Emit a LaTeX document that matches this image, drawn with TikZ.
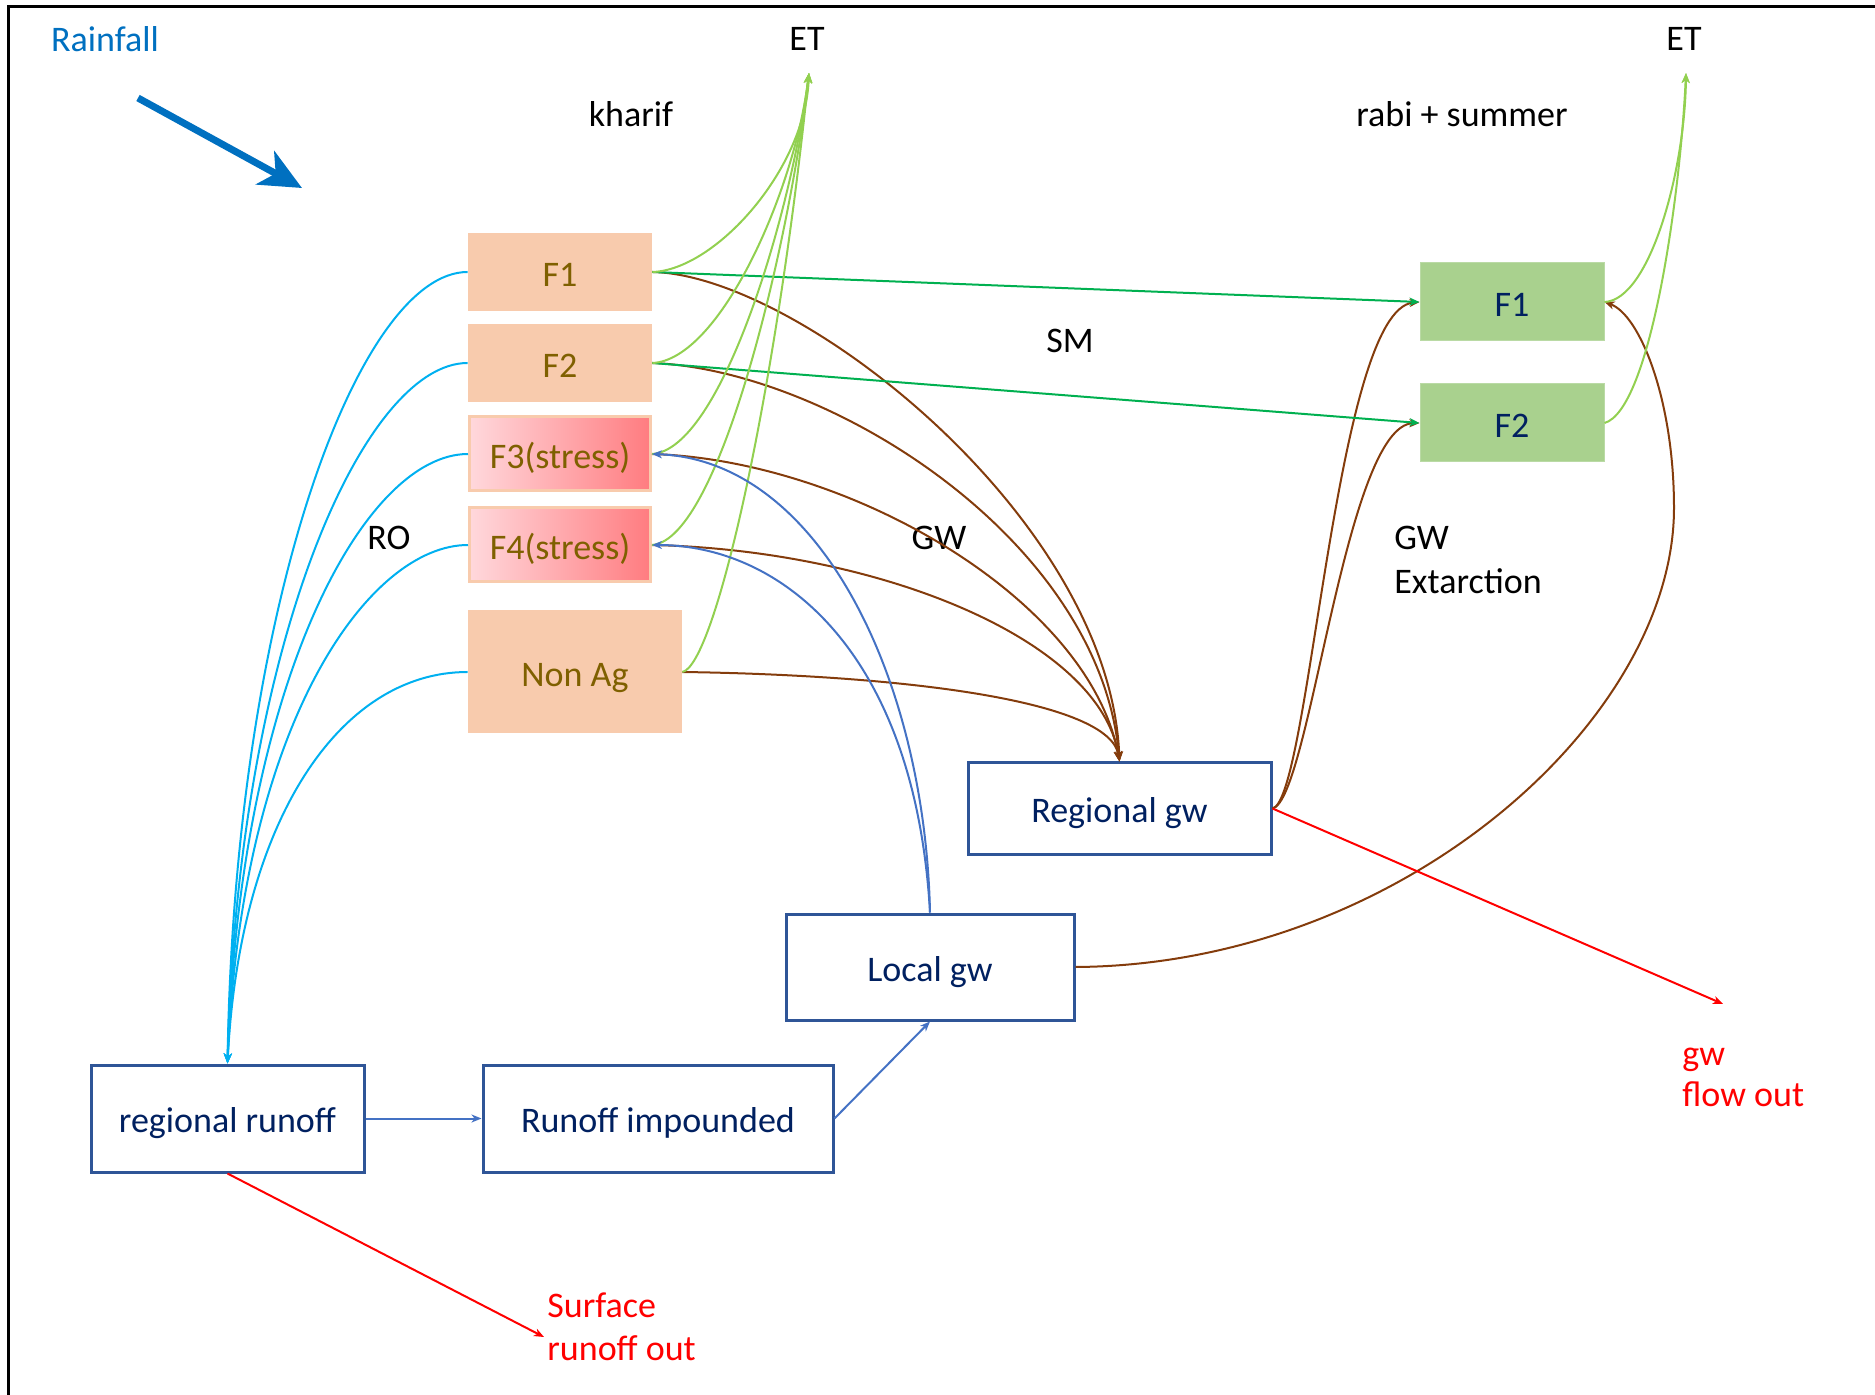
\documentclass[tikz,border=0pt]{standalone}
\usepackage{fontspec}
\setmainfont{Carlito}
\usetikzlibrary{arrows.meta}
\definecolor{rainblue}{HTML}{0070C0}
\definecolor{orfill}{HTML}{F8CBAD}
\definecolor{ortext}{HTML}{7F6000}
\definecolor{pinkL}{HTML}{FFD8DC}
\definecolor{pinkR}{HTML}{FF7C80}
\definecolor{grfill}{HTML}{A9D18E}
\definecolor{navy}{HTML}{002060}
\definecolor{boxblue}{HTML}{2F5597}
\definecolor{cyanl}{HTML}{00B0F0}
\definecolor{etgreen}{HTML}{92D050}
\definecolor{smgreen}{HTML}{00B050}
\definecolor{brownl}{HTML}{843C0C}
\definecolor{bluel}{HTML}{4472C4}
\definecolor{redl}{HTML}{FF0000}
\begin{document}
\begin{tikzpicture}[x=0.5pt,y=-0.5pt,
  every node/.style={font=\fontsize{18pt}{22pt}\selectfont},
  arr/.style={-{Stealth[length=5pt,width=4pt,inset=1.5pt]}},
  conn/.style={line width=1pt, arr},
  boxtext/.style={text height=16.4pt, text depth=2pt},
  obox/.style={rectangle, fill=orfill, text=ortext, inner sep=0pt, boxtext},
  sbox/.style={rectangle, draw=orfill, line width=1.5pt, left color=pinkL, right color=pinkR, text=ortext, inner sep=0pt, boxtext},
  gbox/.style={rectangle, fill=grfill, draw=grfill!80!white, line width=0.5pt, text=navy, inner sep=0pt, boxtext},
  bbox/.style={rectangle, draw=boxblue, line width=1.5pt, fill=white, text=navy, inner sep=0pt, boxtext},
  lbl/.style={text=black, inner sep=0pt}
]
\useasboundingbox (0,0) rectangle (1875,1395);
\draw[line width=1.5pt] (8,1395) -- (8,7) -- (1875,7);

% text labels
\node[text=rainblue, inner sep=0pt] (rain) at (105,39) {Rainfall};
\coordinate (rainS) at (138,98);
\coordinate (rainE) at (302,188);
\draw[rainblue, line width=3.5pt, -{Stealth[length=21pt,width=19pt,inset=6pt]}] (rainS) -- (rainE);
\node[lbl] (et1) at (807,39) {ET};
\node[lbl] (et2) at (1684,39) {ET};
\coordinate (et1p) at (809,73);
\coordinate (et2p) at (1686,73);
\node[lbl] (kharif) at (631,114) {kharif};
\node[lbl] (rabi) at (1462,114) {rabi + summer};
\node[lbl] (sm) at (1070,341) {SM};
\node[lbl] (ro) at (389,538) {RO};
\node[lbl] (gw) at (939,538) {GW};
\node[lbl, anchor=west, align=left, font=\fontsize{18pt}{22pt}\selectfont] (gwex) at (1394,560) {GW\\Extarction};
\node[text=redl, anchor=west, align=left, inner sep=0pt, font=\fontsize{18pt}{20.5pt}\selectfont] (gwout) at (1682,1077) {gw\\flow out};
\node[text=redl, anchor=west, align=left, inner sep=0pt, font=\fontsize{18pt}{21.5pt}\selectfont] (srout) at (547,1327) {Surface\\runoff out};
\coordinate (gwoutp) at (1723,1004);
\coordinate (sroutp) at (544,1337);

% boxes
\node[obox, minimum width=92pt, minimum height=39pt] (f1) at (560,272) {F1};
\node[obox, minimum width=92pt, minimum height=39pt] (f2) at (560,363) {F2};
\node[sbox, minimum width=90.5pt, minimum height=37pt] (f3) at (560,454) {F3(stress)};
\node[sbox, minimum width=90.5pt, minimum height=37pt] (f4) at (560,545) {F4(stress)};
\node[obox, minimum width=107pt, minimum height=61.5pt] (nonag) at (575,672) {Non Ag};
\node[gbox, minimum width=92pt, minimum height=39pt] (g1) at (1512,302) {F1};
\node[gbox, minimum width=92pt, minimum height=39pt] (g2) at (1512,423) {F2};
\node[bbox, minimum width=151.5pt, minimum height=45.5pt] (rgw) at (1119.5,808.5) {Regional gw};
\node[bbox, minimum width=144pt, minimum height=53pt] (lgw) at (930,967) {Local gw};
\node[bbox, minimum width=136.5pt, minimum height=53.5pt] (rro) at (227.5,1118.5) {regional runoff};
\node[bbox, minimum width=175pt, minimum height=53.5pt] (rimp) at (658,1118.5) {Runoff impounded};

% cyan runoff curves
\begin{scope}[cyanl, conn]
\draw (f1.west) .. controls (360,272) and (235,600) .. (rro.north);
\draw (f2.west) .. controls (365,363) and (238,640) .. (rro.north);
\draw (f3.west) .. controls (365,454) and (240,680) .. (rro.north);
\draw (f4.west) .. controls (370,545) and (242,720) .. (rro.north);
\draw (nonag.west) .. controls (340,672) and (240,820) .. (rro.north);
\end{scope}

% brown to regional gw
\begin{scope}[brownl, conn]
\draw (f1.east) .. controls (800,275) and (1110,520) .. (rgw.north);
\draw (f2.east) .. controls (830,370) and (1100,540) .. (rgw.north);
\draw (f3.east) .. controls (850,460) and (1090,600) .. (rgw.north);
\draw (f4.east) .. controls (880,550) and (1100,640) .. (rgw.north);
\draw (nonag.east) .. controls (900,675) and (1110,700) .. (rgw.north);
\draw (rgw.east) .. controls (1310,800) and (1335,310) .. (g1.west);
\draw (rgw.east) .. controls (1310,800) and (1345,425) .. (g2.west);
\draw (lgw.east) .. controls (1400,965) and (1674,720) .. (1674,508) .. controls (1674,400) and (1640,315) .. (g1.east);
\end{scope}

% soil moisture (green)
\draw[smgreen, conn] (f1.east) -- (g1.west);
\draw[smgreen, conn] (f2.east) -- (g2.west);

% ET curves
\begin{scope}[etgreen, conn]
\draw (f1.east) .. controls (715,270) and (805,170) .. (et1p);
\draw (f2.east) .. controls (720,360) and (795,190) .. (et1p);
\draw (f3.east) .. controls (720,450) and (790,220) .. (et1p);
\draw (f4.east) .. controls (720,540) and (790,240) .. (et1p);
\draw (nonag.east) .. controls (715,665) and (775,400) .. (et1p);
\draw (g1.east) .. controls (1650,300) and (1685,170) .. (et2p);
\draw (g2.east) .. controls (1650,410) and (1680,200) .. (et2p);
\end{scope}

% blue local gw flows
\begin{scope}[bluel, conn]
\draw (lgw.north) .. controls (925,680) and (820,460) .. (f3.east);
\draw (lgw.north) .. controls (915,650) and (780,545) .. (f4.east);
\draw (rimp.east) -- (lgw.south);
\draw (rro.east) -- (rimp.west);
\end{scope}

% red outflows
\draw[redl, conn] (rro.south) -- (sroutp);
\draw[redl, conn] (rgw.east) -- (gwoutp);
\end{tikzpicture}
\end{document}
